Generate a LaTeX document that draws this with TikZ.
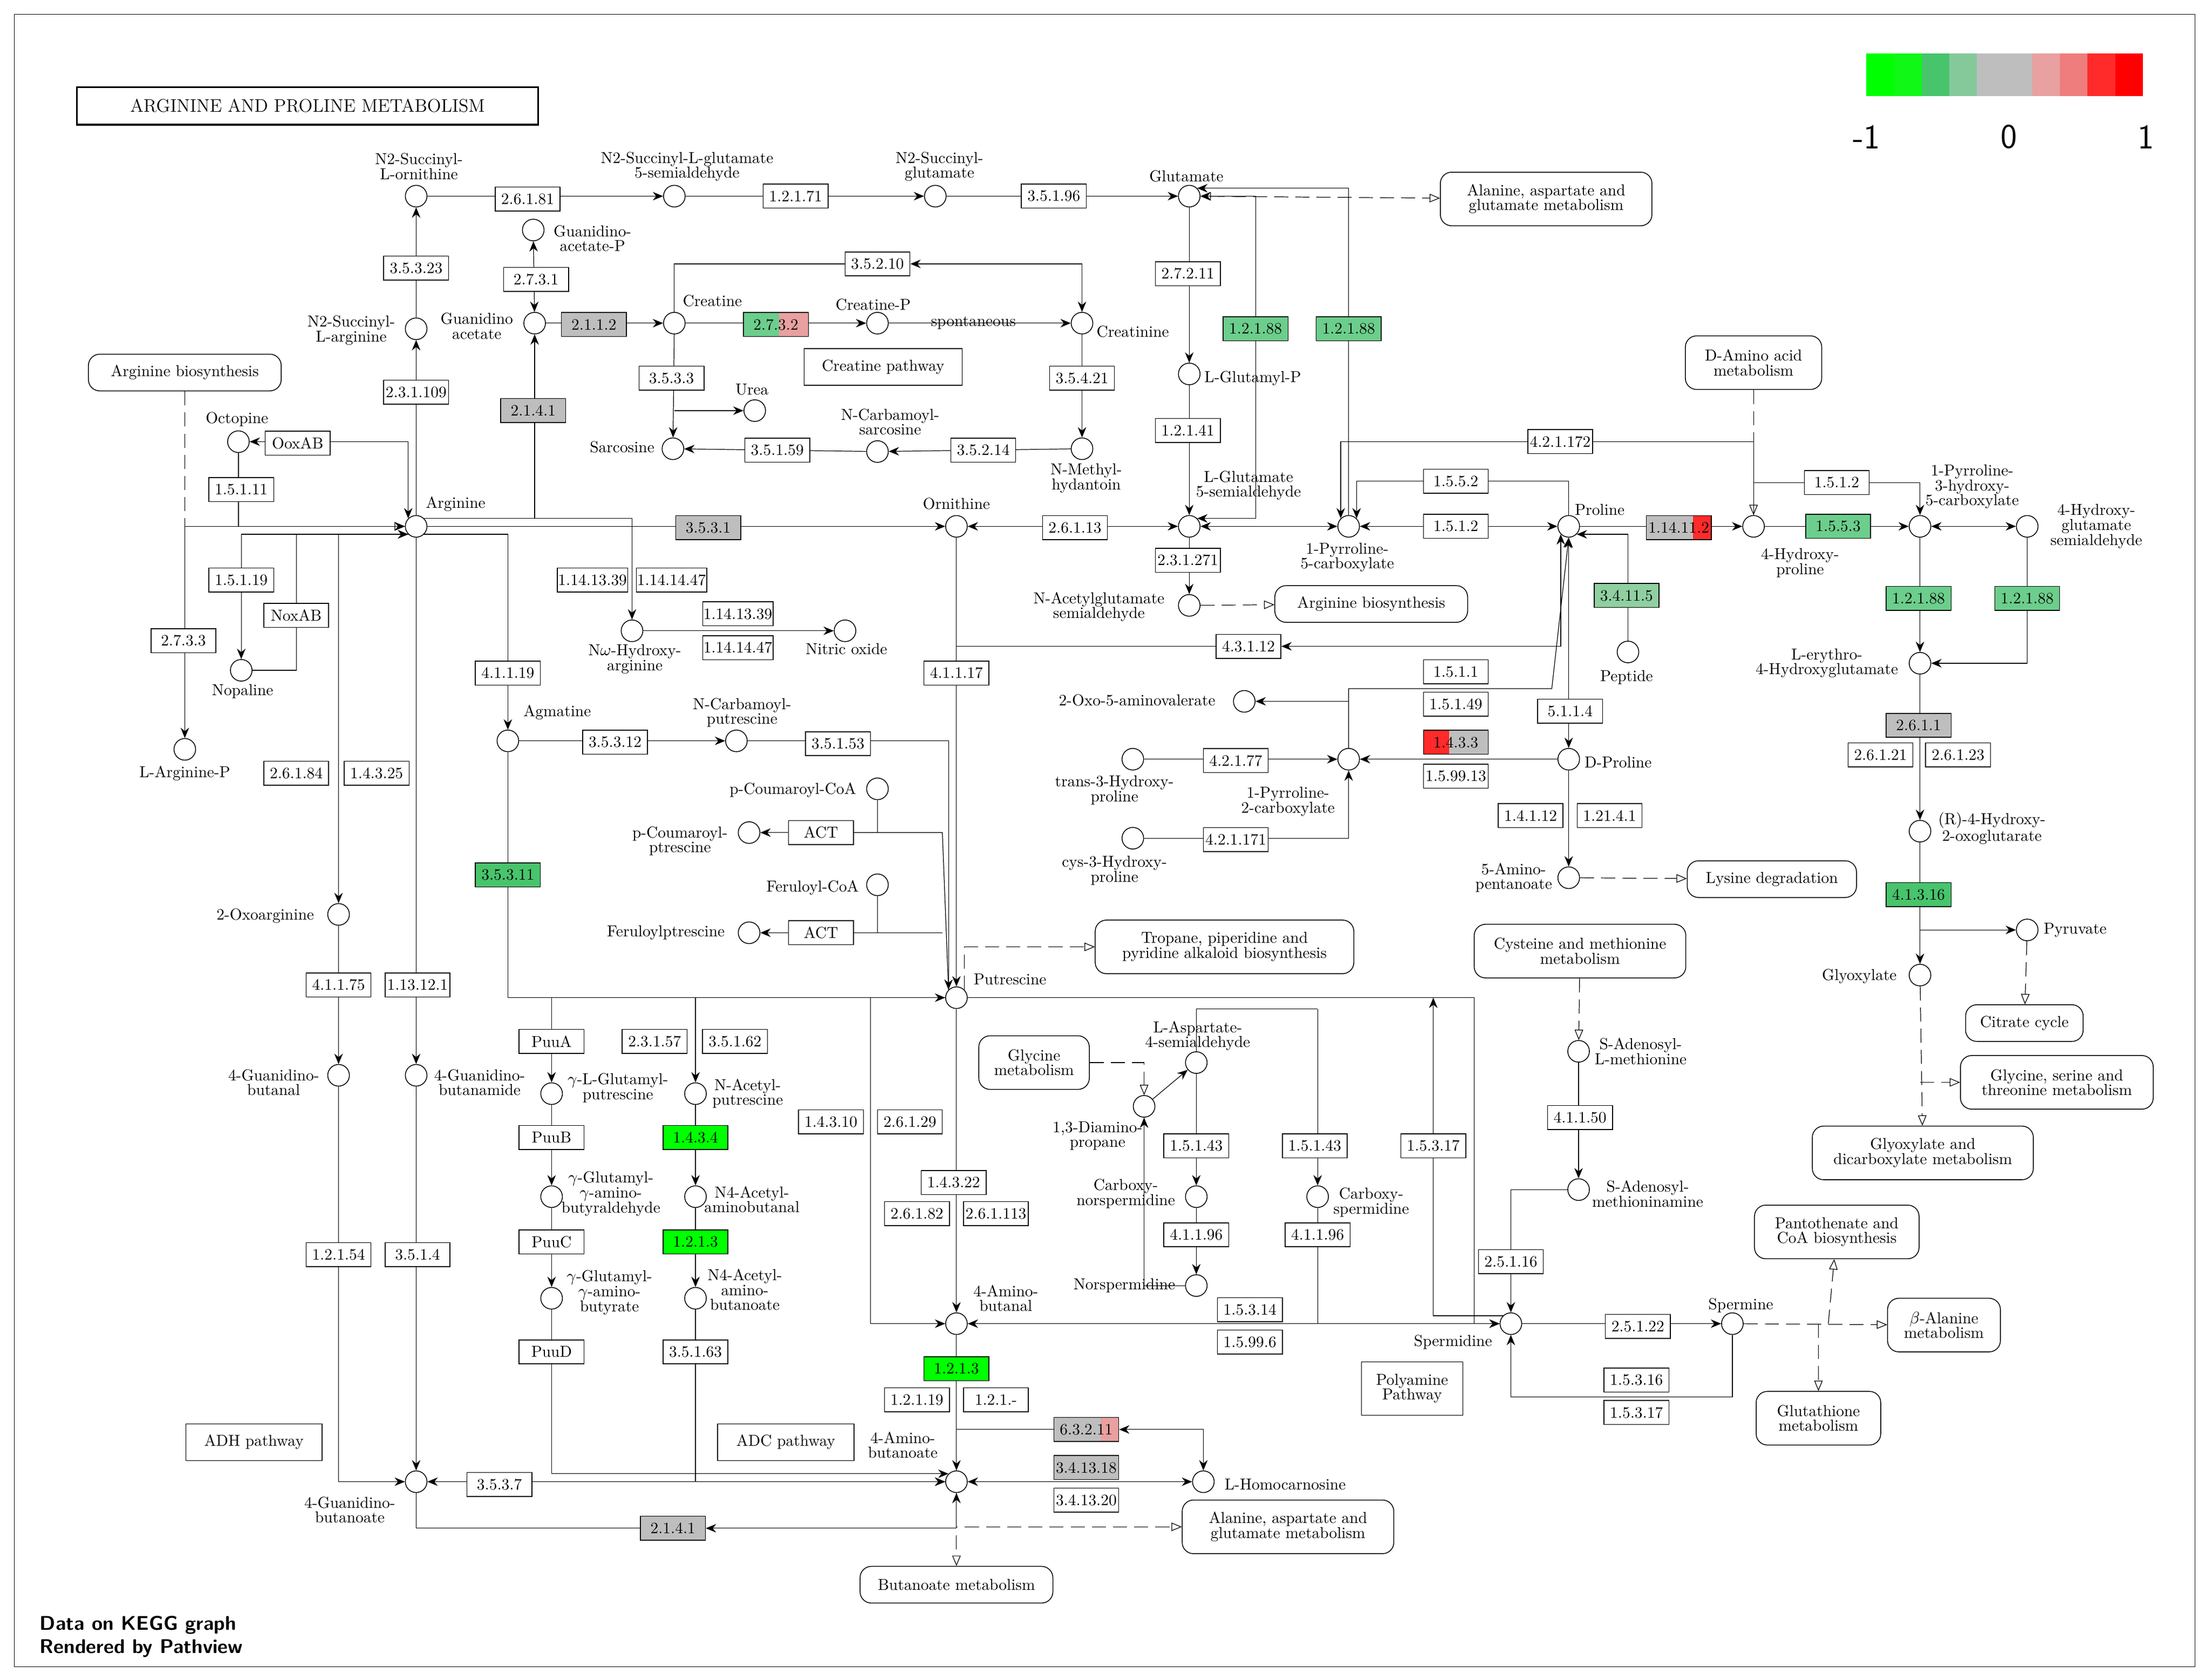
\documentclass[tikz,border=0pt]{standalone}
\usetikzlibrary{arrows.meta,calc}
\pgfdeclarelayer{bg}
\pgfsetlayers{bg,main}
\definecolor{kg}{HTML}{00FF00}
\definecolor{mg}{HTML}{6CCE8C}
\definecolor{dg}{HTML}{48C46C}
\definecolor{lg}{HTML}{8FCFA0}
\definecolor{gy}{HTML}{BEBEBE}
\definecolor{rd}{HTML}{FF2A2A}
\definecolor{pk}{HTML}{E8A0A0}
\newcommand{\enzf}{\fontsize{9.6}{10}\selectfont}
\newcommand{\labf}{\fontsize{9.6}{9}\selectfont}
\begin{document}
\begin{tikzpicture}[x=0.3mm,y=-0.3mm,line width=0.5pt,
 cpd/.style={circle,draw,fill=white,minimum size=4.6mm,inner sep=0},
 enz/.style={draw,fill=white,minimum width=13.8mm,minimum height=5.1mm,inner sep=0.5pt,font=\enzf},
 lab/.style={font=\labf,align=center,inner sep=0},
 map/.style={draw,rounded corners=2.4mm,fill=white,align=center,font=\labf,inner sep=1pt},
 pw/.style={draw,fill=white,align=center,font=\labf,inner sep=1pt},
 ar/.style={-{Stealth[length=2.2mm,width=1.8mm]}},
 ba/.style={{Stealth[length=2.2mm,width=1.8mm]}-{Stealth[length=2.2mm,width=1.8mm]}},
 dar/.style={dashed,dash pattern=on 3mm off 1.5mm,-{Triangle[open,length=2.2mm,width=1.8mm]}},
 dba/.style={dashed,dash pattern=on 3mm off 1.5mm,{Triangle[open,length=2.2mm,width=1.8mm]}-{Triangle[open,length=2.2mm,width=1.8mm]}},
 splitf/.style n args={3}{path picture={\fill[#2] (path picture bounding box.south west) rectangle (path picture bounding box.north east);
   \fill[#1] (path picture bounding box.south west) rectangle ($(path picture bounding box.north west)!#3!(path picture bounding box.north east)$);}}
]
\useasboundingbox (0,0) rectangle (1568,1190.5);
\draw[line width=0.4pt] (10,10) rectangle (1556,1181);
\node[draw,line width=1pt,minimum width=98mm,minimum height=8mm,font=\fontsize{11}{12}\selectfont] (title) at (218,75) {ARGININE AND PROLINE METABOLISM};

% legend
\foreach \c [count=\i] in {kg,kg!85!mg,dg,mg!70!gy,gy,gy,pk,pk!70!rd,rd,red}{
  \fill[\c] ({1323+(\i-1)*19.6},38) rectangle ({1323+\i*19.6},68);}
\node[font=\sffamily\fontsize{21}{21}\selectfont,inner sep=0] (lgm) at (1323,97) {-1};
\node[font=\sffamily\fontsize{21}{21}\selectfont,inner sep=0] (lg0) at (1424,97) {0};
\node[font=\sffamily\fontsize{21}{21}\selectfont,inner sep=0] (lg1) at (1521,97) {1};
\node[font=\sffamily\bfseries\fontsize{12}{14}\selectfont,align=left,anchor=west,inner sep=0] (foot) at (28,1160) {Data on KEGG graph\\Rendered by Pathview};

% compounds
\foreach \n/\x/\y in {sorn/295/139,sgsa/478/139,sglu/663/139,glu/843/139,gaap/378/163,sarg/295/233,gaa/379/229,cre/478/229,crep/622/229,crn/767/229,urea/535/291,sar/477/318,ncs/622/320,nmh/767/318,glp/843/265,gsa/843/373,p5c/956/373,pro/1112/373,oct/169/313,arg/295/373,orn/678/373,nha/448/447,no/599/447,nop/171/475,argp/131/531,nags/843/429,pep/1154/462,agm/360/525,ncp/522/525,pcc/622/559,pcp/531/590,fcc/622/627,fp/531/661,oav/882/497,thp/803/538,p2c/956/538,chp/803/594,dpro/1112/538,apa/1112/622,hyp/1243/373,phc/1361/373,hgs/1437/373,ehg/1361/470,hog/1361/589,pyr/1437/659,glx/1361/691,oxa/240/648,put/678/707,ggb/240/762,gbm/295/762,glput/391/775,nap/493/775,asa/848/753,dap/811/784,sam/1119/745,ggab/391/848,naab/493/848,cns/848/848,csp/934/848,dsam/1119/843,gga/391/920,naabt/493/920,nspd/848/911,aba/678/938,spd/1071/938,spm/1228/938,gbt/295/1050,gaba/678/1050,hcar/853/1050}
  {\node[cpd] (\n) at (\x,\y) {};}

% compound labels
\node[lab] (Lsorn) at (297,118) {N2-Succinyl-\\L-ornithine};
\node[lab] (Lsgsa) at (487,118) {N2-Succinyl-L-glutamate\\5-semialdehyde};
\node[lab] (Lsglu) at (666,118) {N2-Succinyl-\\glutamate};
\node[lab] (Lglu) at (841,125) {Glutamate};
\node[lab] (Lgaap) at (420,169) {Guanidino-\\acetate-P};
\node[lab] (Lsarg) at (249,234) {N2-Succinyl-\\L-arginine};
\node[lab] (Lgaa) at (338,231) {Guanidino\\acetate};
\node[lab] (Lcre) at (505,213) {Creatine};
\node[lab] (Lcrep) at (619,216) {Creatine-P};
\node[lab] (Lcrn) at (803,235) {Creatinine};
\node[lab] (Lurea) at (533,276) {Urea};
\node[lab] (Lsar) at (441,317) {Sarcosine};
\node[lab] (Lncs) at (631,299) {N-Carbamoyl-\\sarcosine};
\node[lab] (Lnmh) at (770,339) {N-Methyl-\\hydantoin};
\node[lab] (Lglp) at (888,268) {L-Glutamyl-P};
\node[lab] (Lgsa) at (885,344) {L-Glutamate\\5-semialdehyde};
\node[lab] (Lp5c) at (955,395) {1-Pyrroline-\\5-carboxylate};
\node[lab] (Lpro) at (1134,361) {Proline};
\node[lab] (Loct) at (168,297) {Octopine};
\node[lab] (Larg) at (323,357) {Arginine};
\node[lab] (Lorn) at (678,357) {Ornithine};
\node[lab] (Lnha) at (450,467) {N$\omega$-Hydroxy-\\arginine};
\node[lab] (Lno) at (600,460) {Nitric oxide};
\node[lab] (Lnop) at (172,490) {Nopaline};
\node[lab] (Largp) at (131,548) {L-Arginine-P};
\node[lab] (Lnags) at (779,430) {N-Acetylglutamate\\semialdehyde};
\node[lab] (Lpep) at (1153,480) {Peptide};
\node[lab] (Lagm) at (395,505) {Agmatine};
\node[lab] (Lncp) at (526,505) {N-Carbamoyl-\\putrescine};
\node[lab] (Lpcc) at (562,560) {p-Coumaroyl-CoA};
\node[lab] (Lpcp) at (482,596) {p-Coumaroyl-\\ptrescine};
\node[lab] (Lfcc) at (576,629) {Feruloyl-CoA};
\node[lab] (Lfp) at (472,661) {Feruloylptrescine};
\node[lab] (Loav) at (806,496) {2-Oxo-5-aminovalerate};
\node[lab] (Lthp) at (790,560) {trans-3-Hydroxy-\\proline};
\node[lab] (Lp2c) at (913,568) {1-Pyrroline-\\2-carboxylate};
\node[lab] (Lchp) at (790,617) {cys-3-Hydroxy-\\proline};
\node[lab] (Ldpro) at (1147,540) {D-Proline};
\node[lab] (Lapa) at (1073,622) {5-Amino-\\pentanoate};
\node[lab] (Lhyp) at (1276,399) {4-Hydroxy-\\proline};
\node[lab] (Lphc) at (1398,345) {1-Pyrroline-\\3-hydroxy-\\5-carboxylate};
\node[lab] (Lhgs) at (1486,373) {4-Hydroxy-\\glutamate\\semialdehyde};
\node[lab] (Lehg) at (1295,470) {L-erythro-\\4-Hydroxyglutamate};
\node[lab] (Lhog) at (1412,587) {(R)-4-Hydroxy-\\2-oxoglutarate};
\node[lab] (Lpyr) at (1471,659) {Pyruvate};
\node[lab] (Lglx) at (1318,692) {Glyoxylate};
\node[lab] (Loxa) at (188,649) {2-Oxoarginine};
\node[lab] (Lput) at (716,694) {Putrescine};
\node[lab] (Lggb) at (194,767) {4-Guanidino-\\butanal};
\node[lab] (Lgbm) at (340,767) {4-Guanidino-\\butanamide};
\node[lab] (Lglput) at (438,771) {$\gamma$-L-Glutamyl-\\putrescine};
\node[lab] (Lnap) at (530,775) {N-Acetyl-\\putrescine};
\node[lab] (Lasa) at (849,734) {L-Aspartate-\\4-semialdehyde};
\node[lab] (Ldap) at (778,805) {1,3-Diamino-\\propane};
\node[lab] (Lsam) at (1163,745) {S-Adenosyl-\\L-methionine};
\node[lab] (Lggab) at (433,846) {$\gamma$-Glutamyl-\\$\gamma$-amino-\\butyraldehyde};
\node[lab] (Lnaab) at (533,850) {N4-Acetyl-\\aminobutanal};
\node[lab] (Lcns) at (798,846) {Carboxy-\\norspermidine};
\node[lab] (Lcsp) at (972,852) {Carboxy-\\spermidine};
\node[lab] (Ldsam) at (1168,846) {S-Adenosyl-\\methioninamine};
\node[lab] (Lgga) at (432,916) {$\gamma$-Glutamyl-\\$\gamma$-amino-\\butyrate};
\node[lab] (Lnaabt) at (528,914) {N4-Acetyl-\\amino-\\butanoate};
\node[lab] (Lnspd) at (797,911) {Norspermidine};
\node[lab] (Laba) at (713,920) {4-Amino-\\butanal};
\node[lab] (Lspd) at (1030,951) {Spermidine};
\node[lab] (Lspm) at (1234,925) {Spermine};
\node[lab] (Lgbt) at (248,1070) {4-Guanidino-\\butanoate};
\node[lab] (Lgaba) at (640,1024) {4-Amino-\\butanoate};
\node[lab] (Lhcar) at (911,1052) {L-Homocarnosine};
\node[lab] (Lspont) at (690,229) {spontaneous};

% enzymes
\foreach \n/\x/\y/\t/\c in {e1/374/141/2.6.1.81/white,e2/564/139/1.2.1.71/white,e3/747/139/3.5.1.96/white,e4/295/190/3.5.3.23/white,e5/380/198/2.7.3.1/white,e6/421/230/2.1.1.2/gy,e8/622/187/3.5.2.10/white,e9/295/278/2.3.1.109/white,e10/378/291/2.1.4.1/gy,e11/476/268/3.5.3.3/white,e12/767/268/3.5.4.21/white,e13/551/319/3.5.1.59/white,e14/697/319/3.5.2.14/white,e15/842/194/2.7.2.11/white,e16/890/233/1.2.1.88/mg,e17/956/233/1.2.1.88/mg,e18/842/305/1.2.1.41/white,e19/211/314/OoxAB/white,e20/171/347/1.5.1.11/white,e21/502/374/3.5.3.1/gy,e22/762/374/2.6.1.13/white,e23/842/397/2.3.1.271/white,e24/1032/341/1.5.5.2/white,e25/1106/313/4.2.1.172/white,e26/1032/373/1.5.1.2/white,e28/1302/342/1.5.1.2/white,e29/1303/373/1.5.5.3/mg,e30/1153/422/3.4.11.5/lg,e31/1360/424/1.2.1.88/mg,e32/1437/424/1.2.1.88/mg,e33/171/411/1.5.1.19/white,e34/210/436/NoxAB/white,e35/130/454/2.7.3.3/white,e36/420/411/1.14.13.39/white,e37/476/411/1.14.14.47/white,e38/523/435/1.14.13.39/white,e39/523/459/1.14.14.47/white,e40/885/458/4.3.1.12/white,e41/360/477/4.1.1.19/white,e42/678/477/4.1.1.17/white,e43/1032/476/1.5.1.1/white,e44/1032/499/1.5.1.49/white,e45/1113/504/5.1.1.4/white,e47/1032/550/1.5.99.13/white,e48/876/539/4.2.1.77/white,e49/876/595/4.2.1.171/white,e50/1085/578/1.4.1.12/white,e51/1141/578/1.21.4.1/white,e52/1360/514/2.6.1.1/gy,e53/1333/535/2.6.1.21/white,e54/1388/535/2.6.1.23/white,e55/1360/634/4.1.3.16/dg,e56/436/526/3.5.3.12/white,e57/594/527/3.5.1.53/white,e58/582/590/ACT/white,e59/582/661/ACT/white,e60/210/548/2.6.1.84/white,e61/267/548/1.4.3.25/white,e62/360/620/3.5.3.11/dg,e63/240/698/4.1.1.75/white,e64/296/698/1.13.12.1/white,e65/391/738/PuuA/white,e66/464/738/2.3.1.57/white,e67/521/738/3.5.1.62/white,e68/391/806/PuuB/white,e69/493/806/1.4.3.4/kg,e70/589/795/1.4.3.10/white,e71/645/795/2.6.1.29/white,e72/676/838/1.4.3.22/white,e73/650/860/2.6.1.82/white,e74/706/860/2.6.1.113/white,e75/848/812/1.5.1.43/white,e76/932/812/1.5.1.43/white,e77/1016/812/1.5.3.17/white,e78/1120/792/4.1.1.50/white,e79/391/880/PuuC/white,e80/493/880/1.2.1.3/kg,e81/848/875/4.1.1.96/white,e82/934/875/4.1.1.96/white,e83/1071/894/2.5.1.16/white,e84/886/928/1.5.3.14/white,e85/886/951/1.5.99.6/white,e86/1161/940/2.5.1.22/white,e87/1160/978/1.5.3.16/white,e88/1160/1001/1.5.3.17/white,e89/240/889/1.2.1.54/white,e90/296/889/3.5.1.4/white,e91/391/958/PuuD/white,e92/493/958/3.5.1.63/white,e93/678/970/1.2.1.3/kg,e94/650/992/1.2.1.19/white,e95/706/992/1.2.1.-/white,e97/770/1040/3.4.13.18/gy,e98/770/1063/3.4.13.20/white,e99/354/1052/3.5.3.7/white,e100/477/1083/2.1.4.1/gy}
  {\node[enz,fill=\c] (\n) at (\x,\y) {\t};}
\node[enz,splitf={mg}{pk}{0.55}] (e7) at (550,230) {2.7.3.2};
\node[enz,splitf={gy}{rd}{0.72}] (e27) at (1190,374) {1.14.11.2};
\node[enz,splitf={rd}{gy}{0.40}] (e46) at (1032,526) {1.4.3.3};
\node[enz,splitf={gy}{pk}{0.72}] (e96) at (770,1013) {6.3.2.11};

% maps
\node[map,minimum width=45mm,minimum height=11.4mm] (m1) at (1096,141) {Alanine, aspartate and\\glutamate metabolism};
\node[map,minimum width=41mm,minimum height=7.8mm] (m2) at (131,264) {Arginine biosynthesis};
\node[map,minimum width=29mm,minimum height=11.4mm] (m3) at (1243,257) {D-Amino acid\\metabolism};
\node[map,minimum width=41mm,minimum height=7.8mm] (m4) at (972,428) {Arginine biosynthesis};
\node[map,minimum width=36mm,minimum height=7.8mm] (m5) at (1256,623) {Lysine degradation};
\node[map,minimum width=55mm,minimum height=11.4mm] (m6) at (868,671) {Tropane, piperidine and\\pyridine alkaloid biosynthesis};
\node[map,minimum width=45mm,minimum height=11.4mm] (m7) at (1120,674) {Cysteine and methionine\\metabolism};
\node[map,minimum width=25mm,minimum height=7.8mm] (m8) at (1435,725) {Citrate cycle};
\node[map,minimum width=41mm,minimum height=11.4mm] (m9) at (1458,767) {Glycine, serine and\\threonine metabolism};
\node[map,minimum width=23.5mm,minimum height=11.4mm] (m10) at (733,753) {Glycine\\metabolism};
\node[map,minimum width=47mm,minimum height=11.4mm] (m11) at (1363,817) {Glyoxylate and\\dicarboxylate metabolism};
\node[map,minimum width=35mm,minimum height=11.4mm] (m12) at (1302,873) {Pantothenate and\\CoA biosynthesis};
\node[map,minimum width=24mm,minimum height=11.4mm] (m13) at (1378,939) {$\beta$-Alanine\\metabolism};
\node[map,minimum width=26.5mm,minimum height=11.4mm] (m14) at (1289,1005) {Glutathione\\metabolism};
\node[map,minimum width=45mm,minimum height=11.4mm] (m15) at (913,1082) {Alanine, aspartate and\\glutamate metabolism};
\node[map,minimum width=41mm,minimum height=7.8mm] (m16) at (678,1123) {Butanoate metabolism};
\node[pw,minimum width=33.6mm,minimum height=7.8mm] (p1) at (626,260) {Creatine pathway};
\node[pw,minimum width=29mm,minimum height=7.8mm] (p2) at (180,1022) {ADH pathway};
\node[pw,minimum width=29mm,minimum height=7.8mm] (p3) at (557,1022) {ADC pathway};
\node[pw,minimum width=21.6mm,minimum height=11.4mm] (p4) at (1001,984) {Polyamine\\Pathway};

% junction coordinates
\coordinate (jurea) at (478,291);
\coordinate (j1) at (1100,488);
\coordinate (jpy) at (1361,659);
\coordinate (jgl) at (1361,767);
\coordinate (jact1) at (668,590);
\coordinate (jact2) at (668,661);
\coordinate (j2) at (617,795);
\coordinate (j3) at (1045,707);
\coordinate (j4) at (1228,990);
\coordinate (j5) at (1071,990);
\coordinate (j6) at (1016,707);
\coordinate (j7) at (1296,938);
\coordinate (j7b) at (1289,938);
\coordinate (j8) at (934,715);
\coordinate (jdap) at (811,753);

\begin{pgfonlayer}{bg}
\draw[ar] (sorn)--(sgsa); \draw[ar] (sgsa)--(sglu); \draw[ar] (sglu)--(glu);
\draw[ar] (arg)--(sarg); \draw[ar] (sarg)--(sorn);
\draw[ba] (gaa)--(gaap);
\draw[ar] (gaa)--(cre); \draw[ar] (cre)--(crep); \draw[ar] (crep)--(crn);
\draw[ba] (cre) |- (e8) -| (crn);
\draw[ar] (cre)--(sar); \draw[ar] (jurea)--(urea);
\draw[ar] (crn)--(nmh); \draw[ar] (nmh)--(ncs); \draw[ar] (ncs)--(sar);
\draw[ar] (arg.north east) -| (gaa);
\draw[ar] (glu)--(glp); \draw[ar] (glp)--(gsa);
\draw[ar] (e16) |- (glu); \draw[ar] (e16) |- (gsa.north east);
\draw[ar] (p5c) |- (glu.north east);
\draw[dba] (glu)--(m1);
\draw[ba] (gsa)--(p5c);
\draw[ba] (orn)--(gsa);
\draw[ar] (arg)--(orn);
\draw[ar] (gsa)--(nags); \draw[dar] (nags)--(m4);
\draw[ba] (orn) |- (e40) -| (pro.south west);
\draw[ba] (p5c)--(pro);
\draw[ar] (pro) |- (e24) -| (p5c.north east);
\draw[ar] (hyp) |- (e25) -| (p5c.north west);
\draw[ar] (pro)--(hyp);
\draw[dar] (m3)--(hyp);
\draw[ar] (hyp) |- (e28) -| (phc); \draw[ar] (hyp)--(phc);
\draw[ba] (phc)--(hgs);
\draw[ar] (phc)--(ehg); \draw[ar] (hgs) |- (ehg);
\draw[ar] (ehg)--(hog);
\draw[ar] (hog)--(glx); \draw[ar] (jpy)--(pyr);
\draw[dar] (pyr)--(m8);
\draw[dar] (glx)--(m11); \draw[dar] (jgl)--(m9);
\draw[ar] (pep) |- (pro.south east);
\draw[ba] (pro)--(dpro);
\draw[ar] (dpro)--(p2c);
\draw[ar] (p2c) |- (j1) -- (pro.south);
\draw[ar] (p2c) |- (oav);
\draw[ar] (thp)--(p2c); \draw[ar] (chp) -| (p2c);
\draw[ar] (dpro)--(apa); \draw[dar] (apa)--(m5);
\draw[ba] (oct) -| (arg.north west);
\draw[ar] (oct) |- (arg.west);
\draw[dar] (m2) |- (arg.west);
\draw[ar] (nop) -| (e34) |- (arg.south west);
\draw[ba] (nop) |- (arg.south west);
\draw[ar] (arg) -| (argp);
\draw[ar] (arg.north east) -| (nha);
\draw[ar] (nha)--(no);
\draw[ar] (arg.south east) -| (agm);
\draw[ar] (arg.south west) -| (oxa);
\draw[ar] (arg)--(gbm);
\draw[ar] (oxa)--(ggb); \draw[ar] (ggb) |- (gbt);
\draw[ar] (gbm)--(gbt);
\draw[ar] (agm)--(ncp); \draw[ar] (ncp) -| (put.north west);
\draw[ar] (agm) |- (put);
\draw[ar] (orn)--(put);
\draw[ar] (pcc) |- (pcp); \draw (e58) -| (jact1) -- (put.north west);
\draw[ar] (fcc) |- (fp); \draw (e59) -| (jact2);
\draw[dar] (put.north east) |- (m6);
\draw[ar] (put) -| (glput); \draw[ar] (put) -| (nap);
\draw[ar] (glput)--(ggab); \draw[ar] (ggab)--(gga); \draw[ar] (gga) |- (gaba.north west);
\draw[ar] (nap)--(naab); \draw[ar] (naab)--(naabt); \draw[ar] (naabt) |- (gaba.west);
\draw[ar] (put) -| (j2) |- (aba);
\draw[ar] (put)--(aba);
\draw[ar] (aba)--(gaba);
\draw[ba] (gaba) |- (e96) -| (hcar); \draw[ba] (gaba)--(hcar);
\draw[dar] (gaba)--(m16); \draw[dar] (gaba) |- (m15);
\draw[ba] (gbt)--(gaba);
\draw[ba] (gbt) |- (e100) -| (gaba);
\draw[ar] (put) -- (j3) |- (spd.west);
\draw[ar] (dsam) -| (spd);
\draw[ar] (spd)--(spm);
\draw[ar] (spm) -- (j4) -- (j5) -- (spd);
\draw[ar] (spd.north west) -| (j6);
\draw[ar] (sam)--(dsam); \draw[dar] (m7)--(sam);
\draw[dar] (spm)--(m13); \draw[dar] (j7)--(m12); \draw[dar] (j7b)--(m14);
\draw[ar] (asa)--(cns); \draw[ar] (cns)--(nspd);
\draw (asa) |- (j8); \draw[ar] (j8)--(csp); \draw[ar] (csp) |- (spd);
\draw[ar] (spd)--(aba);
\draw[ar] (nspd) -| (dap);
\draw[ar] (dap) -- (asa);
\draw[dar] (m10) -| (jdap) -- (dap);
\end{pgfonlayer}
\end{tikzpicture}
\end{document}
